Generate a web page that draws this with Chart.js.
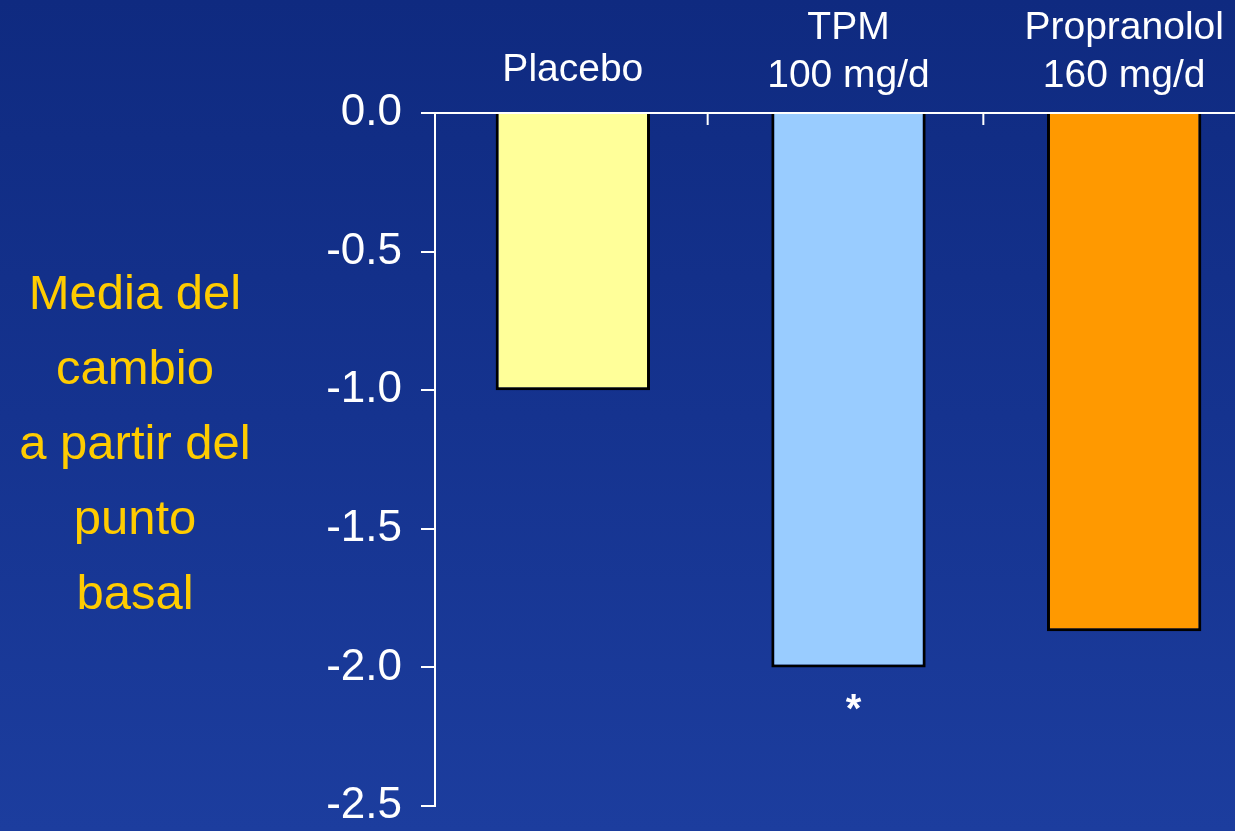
<!DOCTYPE html>
<html lang="es">
<head>
<meta charset="utf-8">
<title>Media del cambio a partir del punto basal</title>
<script src="https://cdn.jsdelivr.net/npm/chart.js@4/dist/chart.umd.min.js"></script>
<style>
  html, body {
    margin: 0;
    padding: 0;
    width: 1235px;
    height: 831px;
    overflow: hidden;
  }
  body {
    position: relative;
    background: linear-gradient(to bottom, #0f2a80 0%, #15338f 50%, #1c3d9e 100%);
    font-family: "Liberation Sans", Arial, sans-serif;
  }
  #chart {
    position: absolute;
    left: 0;
    top: 0;
  }
  #ytitle {
    position: absolute;
    left: 0;
    top: 255px;
    width: 270px;
    text-align: center;
    color: #ffcc00;
    font-size: 49px;
    line-height: 75px;
  }
</style>
</head>
<body>
<canvas id="chart" width="1262" height="831"></canvas>
<div id="ytitle">Media del<br>cambio<br>a partir del<br>punto<br>basal</div>
<script>
// Treatment groups (two-line labels where the dose is given)
const categories = [["Placebo"], ["TPM", "100 mg/d"], ["Propranolol", "160 mg/d"]];
// Mean change from baseline
const meanChange = [-1.0, -2.0, -1.87];
// Significance marks shown under each bar
const significance = ["", "*", ""];
// Bar fill colours
const barColors = ["#ffff99", "#99ccff", "#ff9900"];
// Y-axis range and step
const yMin = -2.5;
const yMax = 0;
const yStep = 0.5;

const FONT = "'Liberation Sans', Arial, sans-serif";

// Short inward tick marks on the top axis, between categories
const categoryDividers = {
  id: "categoryDividers",
  afterDatasetsDraw(chart) {
    const x = chart.scales.x;
    const ctx = chart.ctx;
    const top = chart.chartArea.top;
    ctx.save();
    ctx.strokeStyle = "#ffffff";
    ctx.lineWidth = 2;
    for (let i = 0; i < categories.length - 1; i++) {
      const px = (x.getPixelForTick(i) + x.getPixelForTick(i + 1)) / 2 - 3;
      ctx.beginPath();
      ctx.moveTo(px, top);
      ctx.lineTo(px, top + 12);
      ctx.stroke();
    }
    ctx.restore();
  }
};

// Significance asterisks below the bar ends
const significanceMarks = {
  id: "significanceMarks",
  afterDatasetsDraw(chart) {
    const meta = chart.getDatasetMeta(0);
    const ctx = chart.ctx;
    ctx.save();
    ctx.fillStyle = "#ffffff";
    ctx.font = "bold 40px " + FONT;
    ctx.textAlign = "center";
    ctx.textBaseline = "middle";
    meta.data.forEach((bar, i) => {
      if (significance[i]) {
        ctx.fillText(significance[i], bar.x + 5, bar.y + 44);
      }
    });
    ctx.restore();
  }
};

new Chart(document.getElementById("chart"), {
  type: "bar",
  data: {
    labels: categories,
    datasets: [{
      data: meanChange,
      backgroundColor: barColors,
      borderColor: "#000000",
      borderWidth: 3,
      borderSkipped: "start",
      barPercentage: 0.56,
      categoryPercentage: 1.0
    }]
  },
  options: {
    responsive: false,
    animation: false,
    devicePixelRatio: 1,
    layout: { padding: { top: 0, right: 0, bottom: 25, left: 0 } },
    plugins: {
      legend: { display: false },
      tooltip: { enabled: false }
    },
    scales: {
      x: {
        position: "top",
        offset: true,
        grid: { display: false, drawTicks: false },
        border: { display: true, color: "#ffffff", width: 2 },
        ticks: {
          color: "#ffffff",
          padding: 13,
          maxRotation: 0,
          autoSkip: false,
          font: (c) => ({ family: FONT, size: 39, lineHeight: c.index === 0 ? 1.55 : 1.23 })
        },
        afterFit(scale) {
          scale.height = 113;
          scale.paddingLeft = 0;
          scale.paddingRight = 0;
        }
      },
      y: {
        min: yMin,
        max: yMax,
        grid: {
          drawOnChartArea: false,
          color: "#ffffff",
          lineWidth: 2,
          tickLength: 14
        },
        border: { display: true, color: "#ffffff", width: 2 },
        ticks: {
          stepSize: yStep,
          color: "#ffffff",
          padding: 19,
          font: { family: FONT, size: 44 },
          callback: (v) => Number(v).toFixed(1)
        },
        afterFit(scale) {
          scale.width = 435;
          scale.paddingTop = 0;
          scale.paddingBottom = 0;
        }
      }
    }
  },
  plugins: [categoryDividers, significanceMarks]
});
</script>
</body>
</html>
